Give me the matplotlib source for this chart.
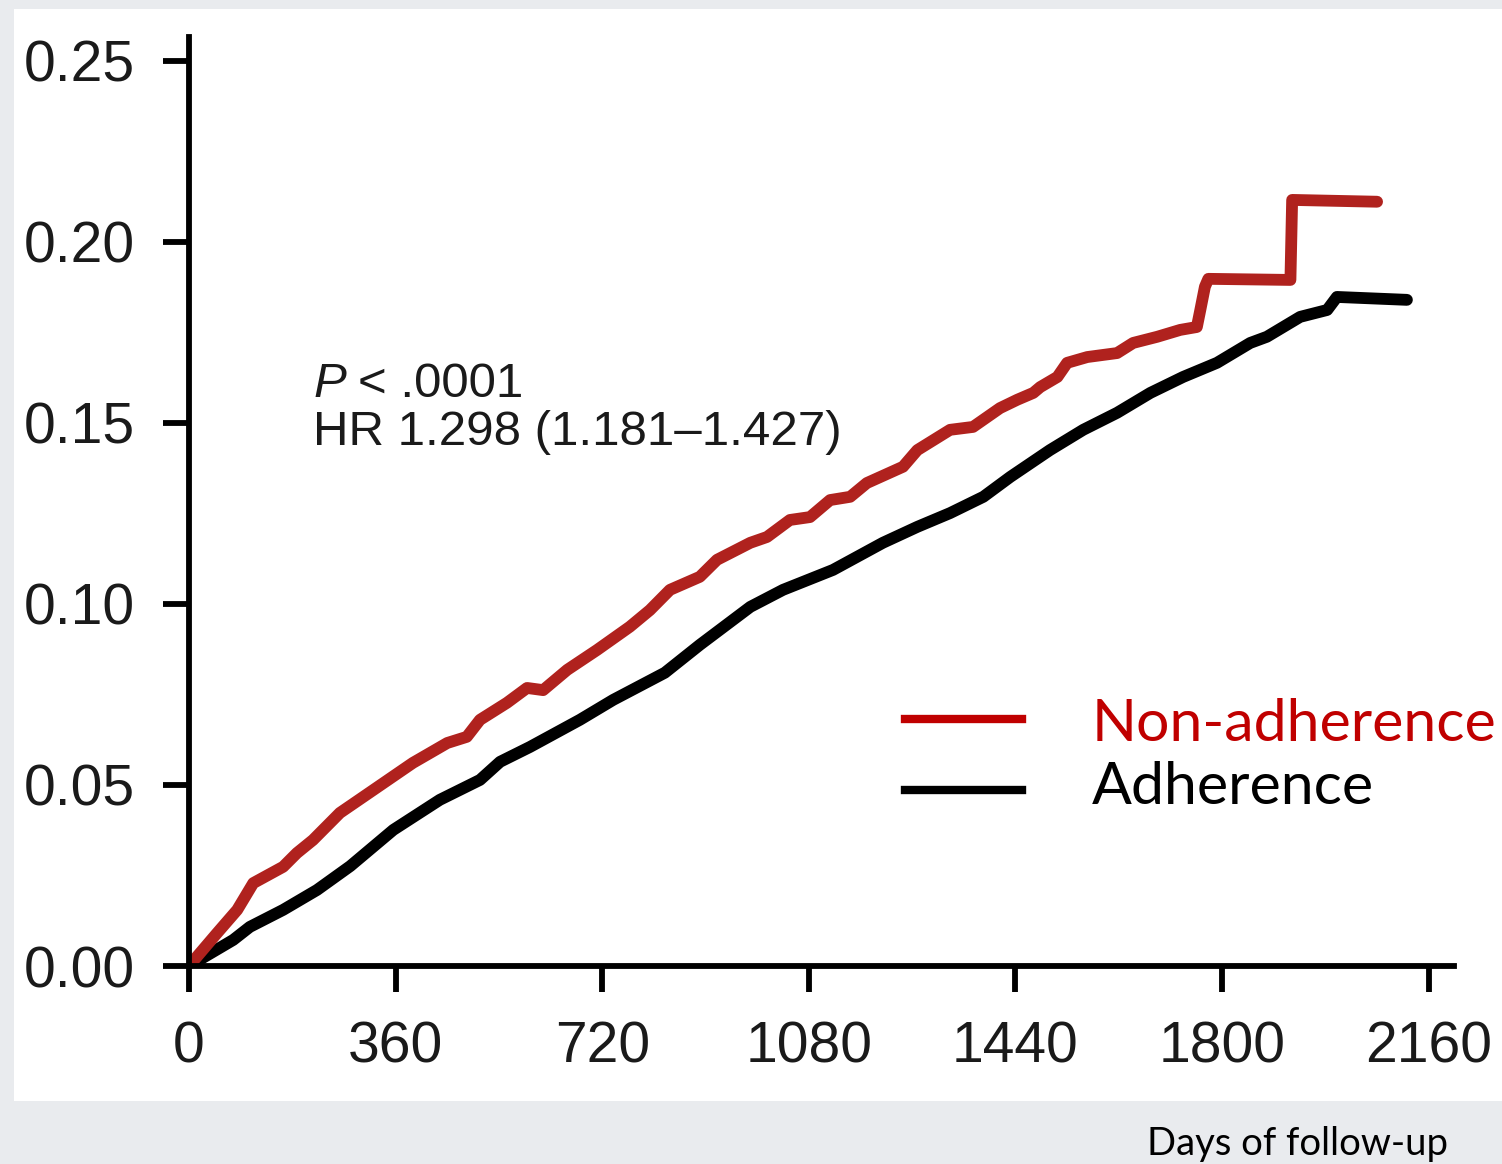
import numpy as np
import matplotlib.pyplot as plt
from matplotlib.lines import Line2D

# Cumulative incidence curves (days, proportion)
days_non = [0, 49, 84, 112, 164, 188, 216, 263, 321, 390, 450, 484, 507, 554,
            589, 617, 659, 711, 768, 803, 838, 890, 920, 978, 1007, 1047, 1082,
            1117, 1152, 1181, 1244, 1269, 1326, 1366, 1413, 1443, 1471, 1483,
            1513, 1530, 1565, 1617, 1645, 1687, 1727, 1756, 1762, 1770, 1776,
            1919, 1922, 2070]
inc_non = [0.0, 0.0091, 0.0155, 0.0229, 0.0274, 0.0312, 0.0348, 0.0423, 0.0486,
           0.0561, 0.0616, 0.0633, 0.0680, 0.0727, 0.0768, 0.0762, 0.0818,
           0.0873, 0.0937, 0.0983, 0.1039, 0.1075, 0.1122, 0.1169, 0.1185,
           0.1232, 0.1240, 0.1287, 0.1296, 0.1334, 0.1379, 0.1425, 0.1481,
           0.1489, 0.1541, 0.1564, 0.1583, 0.1599, 0.1627, 0.1666, 0.1682,
           0.1693, 0.1721, 0.1738, 0.1757, 0.1765, 0.1812, 0.1876, 0.1898,
           0.1895, 0.2116, 0.2111]

days_adh = [0, 77, 106, 164, 223, 281, 356, 437, 507, 542, 594, 681, 739, 829,
            890, 978, 1035, 1122, 1209, 1269, 1326, 1384, 1431, 1500, 1558,
            1617, 1675, 1732, 1791, 1849, 1878, 1936, 1983, 2000, 2122]
inc_adh = [0.0, 0.0072, 0.0108, 0.0155, 0.0210, 0.0276, 0.0376, 0.0459, 0.0514,
           0.0564, 0.0605, 0.0680, 0.0735, 0.0810, 0.0887, 0.0992, 0.1039,
           0.1094, 0.1169, 0.1213, 0.1251, 0.1296, 0.1351, 0.1425, 0.1481,
           0.1528, 0.1583, 0.1627, 0.1666, 0.1721, 0.1738, 0.1793, 0.1812,
           0.1848, 0.1840]

xticks = [0, 360, 720, 1080, 1440, 1800, 2160]
yticks = [0.00, 0.05, 0.10, 0.15, 0.20, 0.25]
ytick_labels = ["0.00", "0.05", "0.10", "0.15", "0.20", "0.25"]

W, H = 1502, 1164
def fx(x):
    return x / W
def fy(y):
    return 1 - y / H

fig = plt.figure(figsize=(W / 100, H / 100), dpi=100)
fig.patch.set_facecolor("#e9ebee")

# white panel behind the plot
panel = plt.Rectangle((fx(14), fy(1101)), 1 - fx(14), fy(9) - fy(1101),
                      transform=fig.transFigure, facecolor="white",
                      edgecolor="none", zorder=-5)
fig.add_artist(panel)

ax = fig.add_axes([fx(189), fy(966), fx(1454) - fx(189), fy(37) - fy(966)])
ax.set_zorder(2)
ax.set_facecolor("none")

ax.plot(days_adh, inc_adh, color="black", lw=8.5, solid_capstyle="round",
        solid_joinstyle="round", zorder=3)
ax.plot(days_non, inc_non, color="#b0221e", lw=8.5, solid_capstyle="round",
        solid_joinstyle="round", zorder=4)

ax.set_xlim(0, 2204)
ax.set_ylim(0, 0.2566)
ax.set_xticks(xticks)
ax.set_yticks(yticks)
ax.set_yticklabels(ytick_labels)

for s in ["top", "right"]:
    ax.spines[s].set_visible(False)
for s in ["left", "bottom"]:
    ax.spines[s].set_linewidth(4.2)
    ax.spines[s].set_zorder(5)

ax.tick_params(direction="out", length=19, width=4.2, colors="black",
               labelcolor="#1a1a1a", labelsize=41)
ax.tick_params(axis="y", pad=20)
ax.tick_params(axis="x", pad=20)
for lab in ax.get_xticklabels() + ax.get_yticklabels():
    lab.set_family("Liberation Sans")

# statistics annotation
fig.text(fx(313), fy(397), "P", fontsize=35.5, style="italic",
         family="Liberation Sans", color="#1a1a1a", va="baseline")
fig.text(fx(358), fy(397), "< .0001", fontsize=35.5, family="Liberation Sans",
         color="#1a1a1a", va="baseline")
fig.text(fx(313), fy(445), "HR 1.298 (1.181\u20131.427)", fontsize=35.5,
         family="Liberation Sans", color="#1a1a1a", va="baseline")

# legend drawn by hand
fig.add_artist(Line2D([fx(905), fx(1022)], [fy(719), fy(719)], color="#c00000",
                      lw=6, transform=fig.transFigure))
fig.add_artist(Line2D([fx(905), fx(1022)], [fy(790), fy(790)], color="black",
                      lw=6, transform=fig.transFigure))
fig.text(fx(1092), fy(741), "Non-adherence", fontsize=42.5, family="Lato",
         color="#c00000", va="baseline")
fig.text(fx(1092), fy(804), "Adherence", fontsize=42.5, family="Lato",
         color="black", va="baseline")

fig.text(fx(1147), fy(1155), "Days of follow-up", fontsize=27.5, family="Lato",
         color="black", va="baseline")

fig.savefig("out.png", dpi=100, facecolor=fig.get_facecolor())
